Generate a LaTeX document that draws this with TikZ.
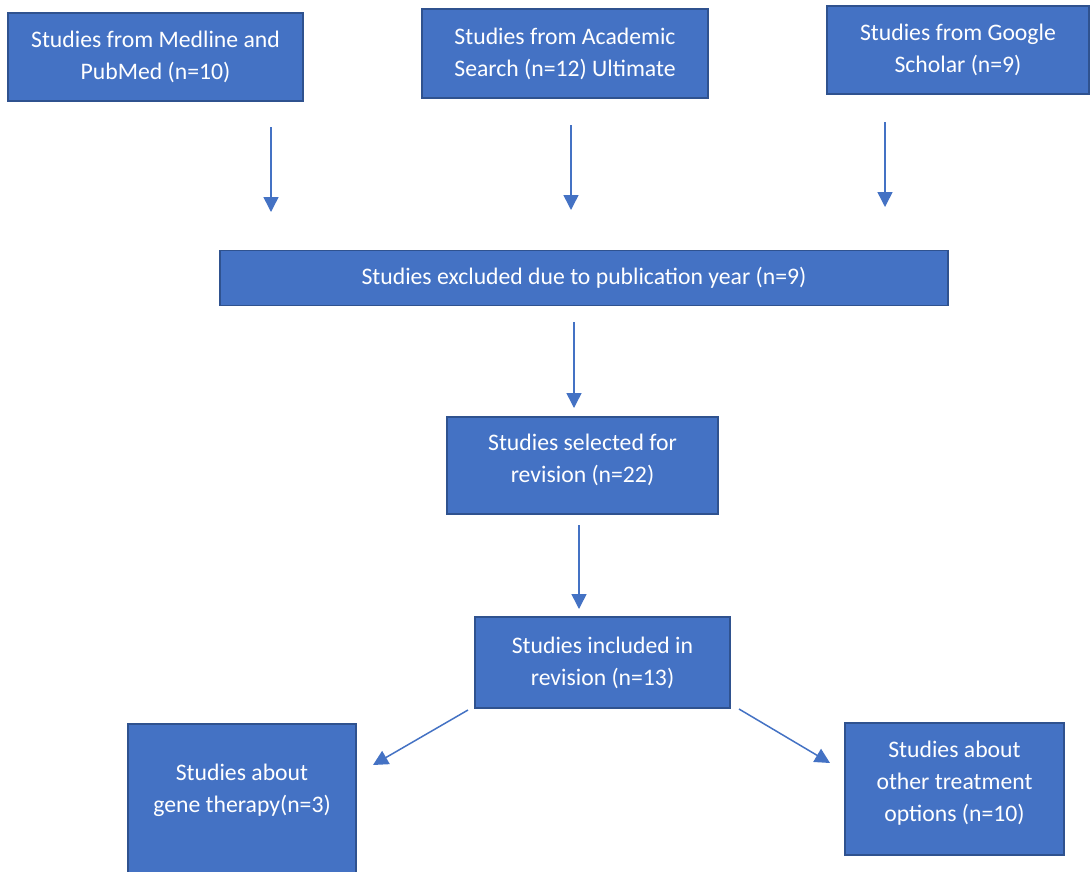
\documentclass[tikz,border=0pt]{standalone}
\usepackage{fontspec}
\setmainfont{Carlito}
\usetikzlibrary{arrows.meta}
\definecolor{boxfill}{HTML}{4472C4}
\definecolor{boxedge}{HTML}{2F528F}
\tikzset{
  box/.style={draw=boxedge, fill=boxfill, line width=1.8pt, inner sep=0pt},
  boxtext/.style={text=white, align=center, inner sep=0pt,
    font=\fontsize{23.7}{32}\selectfont},
  flow/.style={draw=boxfill, line width=1.5pt,
    -{Triangle[width=15pt,length=15pt]}}
}
\begin{document}
\begin{tikzpicture}[x=1pt,y=-1pt]
\useasboundingbox[fill=white] (0,0) rectangle (1090,871);

\node[box, boxtext, minimum width=295, minimum height=88] (medline) at (155.5,57) {Studies from Medline and\\PubMed (n=10)};
\node[box, boxtext, minimum width=286, minimum height=89] (academic) at (565,53.5) {Studies from Academic\\Search (n=12) Ultimate};
\node[box, boxtext, minimum width=262, minimum height=88] (google) at (958,50) {Studies from Google\\Scholar (n=9)};

\node[box, boxtext, minimum width=728, minimum height=55] (excluded) at (584,278) {Studies excluded due to publication year (n=9)};
\node[box, minimum width=271, minimum height=97] (selected) at (582.5,465.5) {};
\node[boxtext] (selectedtext) at (582.5,460) {Studies selected for\\revision (n=22)};
\node[box, boxtext, minimum width=255, minimum height=91] (included) at (602.5,662.5) {Studies included in\\revision (n=13)};

\node[box, minimum width=228, minimum height=180, anchor=north] (gene) at (242,723) {};
\node[boxtext] (genetext) at (242,790) {Studies about\\gene therapy(n=3)};
\node[box, minimum width=219, minimum height=132] (other) at (954.5,789) {};
\node[boxtext] (othertext) at (954.5,783) {Studies about\\other treatment\\options (n=10)};

% free-standing arrow ends
\coordinate (m1) at (271,127);  \coordinate (m2) at (271,212);
\coordinate (s1) at (571,125);  \coordinate (s2) at (571,210);
\coordinate (g1) at (885,122);  \coordinate (g2) at (885,207);
\coordinate (e1) at (574,322);  \coordinate (e2) at (574,408);
\coordinate (r1) at (579,525);  \coordinate (r2) at (579,609);
\coordinate (l1) at (468,710);  \coordinate (l2) at (373,765);
\coordinate (o1) at (739,709);  \coordinate (o2) at (830,763);

\draw[flow] (m1) -- (m2);
\draw[flow] (s1) -- (s2);
\draw[flow] (g1) -- (g2);
\draw[flow] (e1) -- (e2);
\draw[flow] (r1) -- (r2);
\draw[flow] (l1) -- (l2);
\draw[flow] (o1) -- (o2);

\end{tikzpicture}
\end{document}
